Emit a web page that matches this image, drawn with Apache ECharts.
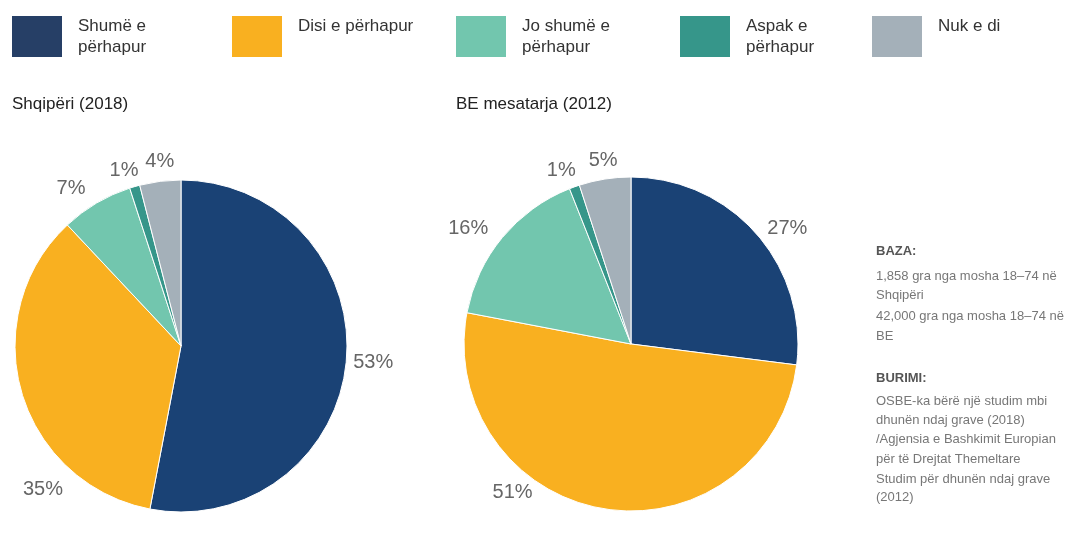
<!DOCTYPE html>
<html>
<head>
<meta charset="utf-8">
<script src="https://cdn.jsdelivr.net/npm/echarts@6/dist/echarts.min.js"></script>
<style>
  html, body { margin: 0; padding: 0; background: #fff; }
  #main { width: 1069px; height: 534px; }
</style>
</head>
<body>
<div id="main"></div>
<script>
// kategoritë dhe vlerat (%)
var categories = ['Shumë e përhapur', 'Disi e përhapur', 'Jo shumë e përhapur', 'Aspak e përhapur', 'Nuk e di'];
var albania2018 = [53, 35, 7, 1, 4];
var eu2012 = [27, 51, 16, 1, 5];
var colors = ['#1a4275', '#f9b020', '#72c6ae', '#36968a', '#a4b0b9'];
var legendColors = ['#263f66', '#f9b020', '#72c6ae', '#36968a', '#a4b0b9'];

// si shfaqen emrat në legjendë
var legendText = {
    'Shumë e përhapur': 'Shumë e\npërhapur',
    'Disi e përhapur': 'Disi e përhapur\n ',
    'Jo shumë e përhapur': 'Jo shumë e\npërhapur',
    'Aspak e përhapur': 'Aspak e\npërhapur',
    'Nuk e di': 'Nuk e di\n '
};
var legendLeft = [10, 230, 454, 678, 870];

// zhvendosje e vogël e etiketave [dx, dy] për secilën pjesë
var labelShift = [
    [[-6, 0], [54, 95], [-2, -8], [11, -8], [20, -12]],
    [[0, 0], [-66, -24], [-3, -4], [9, -9], [19, -11]]
];

var font = "'Liberation Sans', Arial, sans-serif";

var myChart = echarts.init(document.getElementById('main'));

function makeData(values) {
    return values.map(function (v, i) {
        return { name: categories[i], value: v, itemStyle: { color: colors[i] } };
    });
}

var legends = categories.map(function (name, i) {
    return {
        data: [{ name: name, itemStyle: { color: legendColors[i] } }],
        left: legendLeft[i],
        top: 14,
        padding: 0,
        orient: 'horizontal',
        icon: 'rect',
        itemWidth: 52,
        itemHeight: 43,
        selectedMode: false,
        formatter: function (n) { return legendText[n]; },
        textStyle: {
            fontFamily: font,
            fontSize: 17,
            lineHeight: 21,
            color: '#333',
            padding: [2, 0, 0, 10]
        }
    };
});

function pieSeries(idx, name, values, center, radius) {
    return {
        name: name,
        type: 'pie',
        center: center,
        radius: radius,
        startAngle: 90,
        clockwise: true,
        avoidLabelOverlap: false,
        itemStyle: { borderColor: '#fff', borderWidth: 1 },
        label: {
            show: true,
            position: 'outside',
            formatter: '{c}%',
            fontFamily: font,
            fontSize: 20,
            color: '#666'
        },
        labelLine: { show: false, length: 8, length2: 0 },
        labelLayout: function (params) {
            var s = labelShift[idx][params.dataIndex];
            return { dx: s[0], dy: s[1], hideOverlap: false };
        },
        emphasis: { disabled: true },
        data: makeData(values)
    };
}

var notes = [
    { text: 'BAZA:', y: 253, bold: true },
    { text: '1,858 gra nga mosha 18–74 në', y: 278 },
    { text: 'Shqipëri', y: 297 },
    { text: '42,000 gra nga mosha 18–74 në', y: 318 },
    { text: 'BE', y: 338 },
    { text: 'BURIMI:', y: 380, bold: true },
    { text: 'OSBE-ka bërë një studim mbi', y: 403 },
    { text: 'dhunën ndaj grave (2018)', y: 422 },
    { text: '/Agjensia e Bashkimit Europian', y: 441 },
    { text: 'për të Drejtat Themeltare', y: 461 },
    { text: 'Studim për dhunën ndaj grave', y: 481 },
    { text: '(2012)', y: 499 }
];

option = {
    backgroundColor: '#fff',
    animation: false,
    legend: legends,
    title: [
        { text: 'Shqipëri (2018)', left: 7, top: 91,
          textStyle: { fontFamily: font, fontSize: 17, fontWeight: 'normal', color: '#222' } },
        { text: 'BE mesatarja (2012)', left: 451, top: 91,
          textStyle: { fontFamily: font, fontSize: 17, fontWeight: 'normal', color: '#222' } }
    ],
    graphic: notes.map(function (n) {
        return {
            type: 'text',
            left: 876,
            top: n.y - 8,
            style: {
                text: n.text,
                fill: n.bold ? '#555' : '#777',
                font: (n.bold ? 'bold ' : '') + '13px ' + font
            }
        };
    }),
    series: [
        pieSeries(0, 'Shqipëri (2018)', albania2018, [181, 346], 166),
        pieSeries(1, 'BE mesatarja (2012)', eu2012, [631, 344], 167)
    ]
};

myChart.setOption(option);
</script>
</body>
</html>
